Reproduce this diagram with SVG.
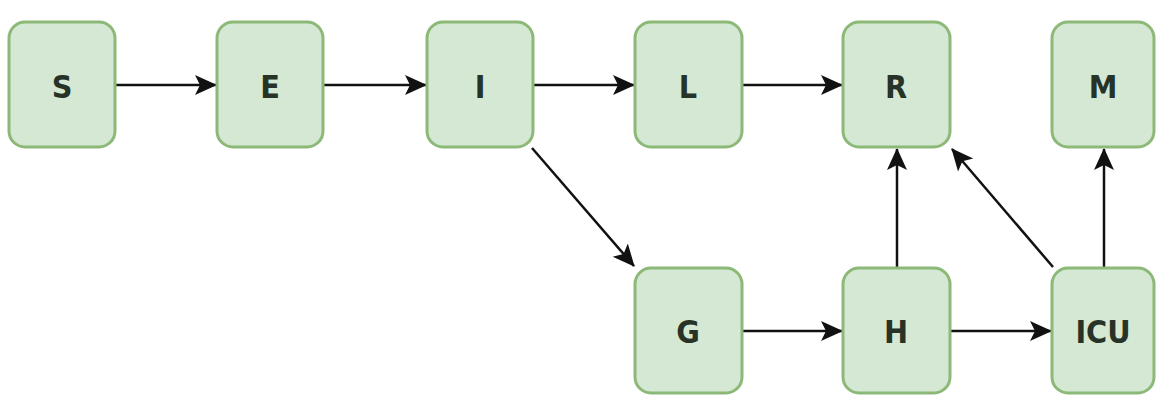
<svg xmlns="http://www.w3.org/2000/svg" width="1156" height="402" viewBox="0 0 1156 402">
  <style>
    .box { fill: #d5e8d4; stroke: #8cb878; stroke-width: 3; }
    .lbl { font-family: "DejaVu Sans", "Liberation Sans", sans-serif; font-stretch: condensed; font-weight: bold; font-size: 32px; fill: #263326; text-anchor: middle; }
    .edge { fill: none; stroke: #111; stroke-width: 2.5; }
  </style>
  <defs>
    <marker id="arr" viewBox="0 0 22 22" refX="21" refY="11" markerWidth="22" markerHeight="22" markerUnits="userSpaceOnUse" orient="auto">
      <path d="M0,1 L22,11 L0,21 L5,11 Z" fill="#111"/>
    </marker>
  </defs>
  <rect width="1156" height="402" fill="#ffffff"/>
  <g id="connectors">
    <line class="edge" x1="116" y1="85" x2="216" y2="85" marker-end="url(#arr)"/>
    <line class="edge" x1="324" y1="85" x2="426" y2="85" marker-end="url(#arr)"/>
    <line class="edge" x1="534" y1="85" x2="634" y2="85" marker-end="url(#arr)"/>
    <line class="edge" x1="743" y1="85" x2="842" y2="85" marker-end="url(#arr)"/>
    <line class="edge" x1="532" y1="148" x2="634" y2="266" marker-end="url(#arr)"/>
    <line class="edge" x1="743" y1="331" x2="842" y2="331" marker-end="url(#arr)"/>
    <line class="edge" x1="951" y1="331" x2="1051" y2="331" marker-end="url(#arr)"/>
    <line class="edge" x1="897" y1="267" x2="897" y2="149" marker-end="url(#arr)"/>
    <line class="edge" x1="1053" y1="267" x2="952" y2="149" marker-end="url(#arr)"/>
    <line class="edge" x1="1104" y1="267" x2="1104" y2="149" marker-end="url(#arr)"/>
  </g>
  <g id="node-S"><rect class="box" x="9" y="22" width="106" height="125" rx="16"/><text class="lbl" x="62" y="98">S</text></g>
  <g id="node-E"><rect class="box" x="217" y="22" width="106" height="125" rx="16"/><text class="lbl" x="270" y="98">E</text></g>
  <g id="node-I"><rect class="box" x="427" y="22" width="106" height="125" rx="16"/><text class="lbl" x="480" y="98">I</text></g>
  <g id="node-L"><rect class="box" x="635" y="22" width="107" height="125" rx="16"/><text class="lbl" x="688" y="98">L</text></g>
  <g id="node-R"><rect class="box" x="843" y="22" width="107" height="125" rx="16"/><text class="lbl" x="896" y="98">R</text></g>
  <g id="node-M"><rect class="box" x="1052" y="22" width="102" height="125" rx="16"/><text class="lbl" x="1103" y="98">M</text></g>
  <g id="node-G"><rect class="box" x="635" y="268" width="107" height="125" rx="16"/><text class="lbl" x="688" y="343">G</text></g>
  <g id="node-H"><rect class="box" x="843" y="268" width="107" height="125" rx="16"/><text class="lbl" x="896" y="343">H</text></g>
  <g id="node-ICU"><rect class="box" x="1052" y="268" width="102" height="125" rx="16"/><text class="lbl" x="1103" y="343">ICU</text></g>
</svg>
